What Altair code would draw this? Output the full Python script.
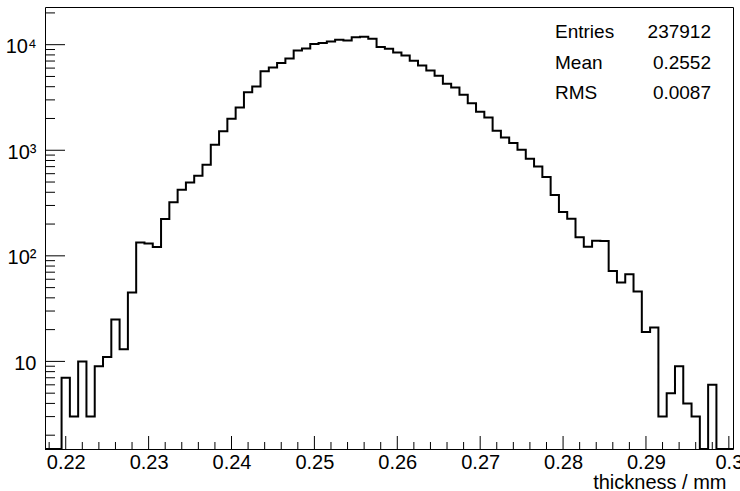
import altair as alt
import pandas as pd

# ---- data ----
bin_low = 0.2175
bin_width = 0.001
counts = [0, 0, 7, 3, 10, 3, 9, 11, 25, 13,
          45, 134, 131, 121, 223, 321, 423, 496, 574, 730,
          1129, 1510, 1990, 2547, 3540, 4027, 5588, 6093, 6700, 7413,
          8830, 9227, 10160, 10380, 10740, 11150, 10980, 11730, 11900, 11400,
          9500, 9160, 8450, 7920, 7050, 6360, 5710, 5090, 4270, 3940,
          3360, 2790, 2320, 2047, 1531, 1324, 1172, 1012, 832, 703,
          558, 377, 260, 225, 150, 122, 139, 138, 72, 56,
          67, 46, 19, 21, 3, 5, 9, 4, 3, 0,
          6, 0, 0]
x_major = [0.22, 0.23, 0.24, 0.25, 0.26, 0.27, 0.28, 0.29, 0.30]
x_minor = [0.218, 0.222, 0.224, 0.226, 0.228, 0.232, 0.234, 0.236, 0.238,
           0.242, 0.244, 0.246, 0.248, 0.252, 0.254, 0.256, 0.258,
           0.262, 0.264, 0.266, 0.268, 0.272, 0.274, 0.276, 0.278,
           0.282, 0.284, 0.286, 0.288, 0.292, 0.294, 0.296, 0.298]
y_major = [10, 100, 1000, 10000]
y_minor = [2, 3, 4, 5, 6, 7, 8, 9,
           20, 30, 40, 50, 60, 70, 80, 90,
           200, 300, 400, 500, 600, 700, 800, 900,
           2000, 3000, 4000, 5000, 6000, 7000, 8000, 9000, 20000]
stat_names = ["Entries", "Mean", "RMS"]
stat_values = ["237912", "0.2552", "0.0087"]
x_title = "thickness / mm"

n = len(counts)
edges = [round(bin_low + i * bin_width, 4) for i in range(n + 1)]
hist = pd.DataFrame({"x": edges, "count": counts + [counts[-1]]})

W, H = 688, 442
FONT = "Liberation Sans"

xscale = alt.Scale(domain=[0.2175, 0.3005], nice=False, zero=False)
yscale = alt.Scale(type="log", domain=[1.48, 22750], nice=False, clamp=True)

xaxis = alt.Axis(values=x_major, format="~g", ticks=False, tickSize=0, domain=False,
                 grid=False, labelFont=FONT, labelFontSize=20, labelColor="black",
                 labelPadding=3, labelFlush=False, titleFont=FONT, titleFontSize=20,
                 titleFontWeight="normal", titleColor="black", titleAnchor="end",
                 titleAlign="right", titleX=681, titleY=39, titleBaseline="alphabetic")
yaxis = alt.Axis(values=y_major, ticks=False, tickSize=0, domain=False, grid=False,
                 labelExpr="datum.value == 10 ? '10' : datum.value == 100 ? '10²' : datum.value == 1000 ? '10³' : '10⁴'",
                 labelFont=FONT, labelFontSize=20, labelColor="black", labelPadding=9,
                 labelBaseline="middle", labelOffset=2, labelFlush=False)


def X(field):
    return alt.X(field, type="quantitative", scale=xscale, axis=xaxis, title=x_title)


def Y(field):
    return alt.Y(field, type="quantitative", scale=yscale, axis=yaxis, title=None)


line = alt.Chart(hist).transform_calculate(
    plotted="max(datum.count, 1)"
).mark_line(interpolate="step-after", color="black", strokeWidth=2).encode(
    x=X("x"), y=Y("plotted")
)

xmaj = alt.Chart(pd.DataFrame({"x": x_major})).mark_rule(color="black", strokeWidth=1).encode(
    x=X("x"), y=alt.value(H), y2=alt.value(H - 13))
xmin = alt.Chart(pd.DataFrame({"x": x_minor})).mark_rule(color="black", strokeWidth=1).encode(
    x=X("x"), y=alt.value(H), y2=alt.value(H - 7))
ymaj = alt.Chart(pd.DataFrame({"plotted": y_major})).mark_rule(color="black", strokeWidth=1).encode(
    y=Y("plotted"), x=alt.value(0), x2=alt.value(20))
ymin = alt.Chart(pd.DataFrame({"plotted": y_minor})).mark_rule(color="black", strokeWidth=1).encode(
    y=Y("plotted"), x=alt.value(0), x2=alt.value(10))

layers = [line, xmaj, xmin, ymaj, ymin]
row_y = [31, 61.5, 91.5]
for name, val, yy in zip(stat_names, stat_values, row_y):
    layers.append(alt.Chart(pd.DataFrame({"t": [name]})).mark_text(
        align="left", baseline="alphabetic", font=FONT, fontSize=19, color="black"
    ).encode(text="t:N", x=alt.value(510), y=alt.value(yy)))
    layers.append(alt.Chart(pd.DataFrame({"t": [val]})).mark_text(
        align="right", baseline="alphabetic", font=FONT, fontSize=19, color="black"
    ).encode(text="t:N", x=alt.value(666), y=alt.value(yy)))

chart = alt.layer(*layers).properties(
    width=W, height=H,
    autosize=alt.AutoSizeParams(type="none"),
    padding={"left": 45, "top": 7, "right": 7, "bottom": 42},
    background="white",
).configure_view(stroke="black", strokeWidth=1)

chart.save("out.html", embed_options={"renderer": "svg", "actions": False})
